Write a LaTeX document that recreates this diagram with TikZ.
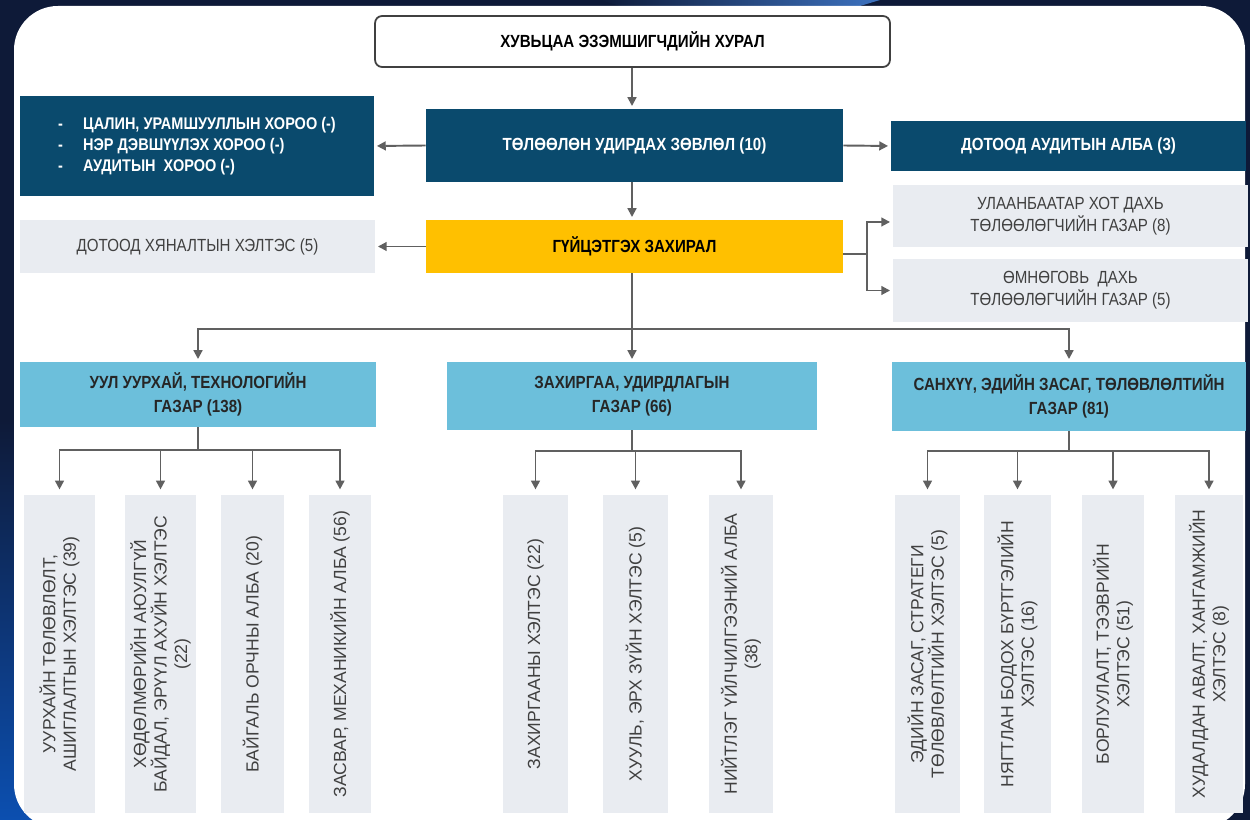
\documentclass[tikz,border=0pt]{standalone}
\usepackage{fontspec}
\setmainfont{Liberation Sans}[FakeStretch=0.86]
\newfontfamily\unitfont{Liberation Sans}
\usetikzlibrary{arrows.meta}
\definecolor{navy}{HTML}{0E1A38}
\definecolor{deepblue}{HTML}{0C4FB0}
\definecolor{board}{HTML}{0A4A6D}
\definecolor{gold}{HTML}{FFC000}
\definecolor{dept}{HTML}{6CBFDB}
\definecolor{pale}{HTML}{E9ECF1}
\definecolor{wire}{HTML}{606060}

\begin{document}
\begin{tikzpicture}[x=0.02cm, y=-0.02cm,
  every node/.style={inner sep=0pt, align=center, font=\fontsize{10}{12.5}\selectfont},
  dark/.style={fill=board, text=white, font=\bfseries\fontsize{10}{12.5}\selectfont},
  ceobox/.style={fill=gold, text=black, font=\bfseries\fontsize{10}{12.5}\selectfont},
  deptbox/.style={fill=dept, text=black!85, font=\bfseries\fontsize{10}{13.5}\selectfont},
  palebox/.style={fill=pale, text=black!75, font=\fontsize{10}{12.5}\selectfont},
  subbox/.style={palebox, rotate=90, minimum width=6.36cm, font=\unitfont\fontsize{10}{11.6}\selectfont},
  wireline/.style={draw=wire, line width=1.1pt},
  arrow/.style={wireline, -{Triangle[width=5pt,length=5pt]}, shorten >=1.5pt}]
\useasboundingbox (0,0) rectangle (1250,820);
% background and panel
\fill[navy] (0,0) rectangle (1250,820);
\shade[top color=navy, bottom color=deepblue] (0,420) rectangle (40,820);
\shade[left color=navy, right color=deepblue!80] (600,0) -- (880,0) -- (860,6) -- (620,6) -- cycle;
\fill[white, rounded corners=25] (14,6) rectangle (1245,828);

% top levels
\node (gsm) at (632.5,41.5) [draw=black!75, line width=1pt, fill=white, rounded corners=4pt,
  minimum width=10.3cm, minimum height=1.02cm, font=\bfseries\fontsize{10}{12.5}\selectfont] {ХУВЬЦАА ЭЗЭМШИГЧДИЙН ХУРАЛ};
\node (bod) at (634.5,145.5) [dark, minimum width=8.34cm, minimum height=1.46cm] {ТӨЛӨӨЛӨН УДИРДАХ ЗӨВЛӨЛ (10)};
\node (com) at (197,146) [dark, align=left, minimum width=7.08cm, minimum height=2cm,
  font=\bfseries\fontsize{9.6}{11.8}\selectfont]
  {\makebox[0.5cm][l]{-}ЦАЛИН, УРАМШУУЛЛЫН ХОРОО (-)\\
   \makebox[0.5cm][l]{-}НЭР ДЭВШҮҮЛЭХ ХОРОО (-)\\
   \makebox[0.5cm][l]{-}АУДИТЫН\ \ ХОРОО (-)};
\node (aud) at (1068.5,146) [dark, minimum width=7.1cm, minimum height=1cm] {ДОТООД АУДИТЫН АЛБА (3)};
\node (ceo) at (634.5,246.5) [ceobox, minimum width=8.34cm, minimum height=1.06cm] {ГҮЙЦЭТГЭХ ЗАХИРАЛ};
\node (ctl) at (197.5,246.5) [palebox, minimum width=7.1cm, minimum height=1.06cm] {ДОТООД ХЯНАЛТЫН ХЭЛТЭС (5)};
\node (ulb) at (1070.5,216) [palebox, minimum width=7.1cm, minimum height=1.24cm] {УЛААНБААТАР ХОТ ДАХЬ\\ТӨЛӨӨЛӨГЧИЙН ГАЗАР (8)};
\node (umn) at (1070.5,290.5) [palebox, minimum width=7.1cm, minimum height=1.26cm] {ӨМНӨГОВЬ\ \ ДАХЬ\\ТӨЛӨӨЛӨГЧИЙН ГАЗАР (5)};

% departments
\node (mine) at (198,394.5) [deptbox, minimum width=7.12cm, minimum height=1.3cm] {УУЛ УУРХАЙ, ТЕХНОЛОГИЙН\\ГАЗАР (138)};
\node (adm) at (632,396) [deptbox, minimum width=7.42cm, minimum height=1.36cm] {ЗАХИРГАА, УДИРДЛАГЫН\\ГАЗАР (66)};
\node (fin) at (1069,396.5) [deptbox, minimum width=7.1cm, minimum height=1.38cm] {САНХҮҮ, ЭДИЙН ЗАСАГ, ТӨЛӨВЛӨЛТИЙН\\ГАЗАР (81)};

% units
\node (m1) at (59.5,654) [subbox, minimum height=1.42cm] {УУРХАЙН ТӨЛӨВЛӨЛТ,\\АШИГЛАЛТЫН ХЭЛТЭС (39)};
\node (m2) at (160.5,654) [subbox, minimum height=1.42cm] {ХӨДӨЛМӨРИЙН АЮУЛГҮЙ\\БАЙДАЛ, ЭРҮҮЛ АХУЙН ХЭЛТЭС\\(22)};
\node (m3) at (252.5,654) [subbox, minimum height=1.26cm] {БАЙГАЛЬ ОРЧНЫ АЛБА (20)};
\node (m4) at (340,654) [subbox, minimum height=1.24cm] {ЗАСВАР, МЕХАНИКИЙН АЛБА (56)};
\node (a1) at (535.5,654) [subbox, minimum height=1.3cm] {ЗАХИРГААНЫ ХЭЛТЭС (22)};
\node (a2) at (635.5,654) [subbox, minimum height=1.3cm] {ХУУЛЬ, ЭРХ ЗҮЙН ХЭЛТЭС (5)};
\node (a3) at (741,654) [subbox, minimum height=1.28cm] {НИЙТЛЭГ ҮЙЛЧИЛГЭЭНИЙ АЛБА\\(38)};
\node (f1) at (927.5,654) [subbox, minimum height=1.3cm] {ЭДИЙН ЗАСАГ, СТРАТЕГИ\\ТӨЛӨВЛӨЛТИЙН ХЭЛТЭС (5)};
\node (f2) at (1017.5,654) [subbox, minimum height=1.34cm] {НЯГТЛАН БОДОХ БҮРТГЭЛИЙН\\ХЭЛТЭС (16)};
\node (f3) at (1113,654) [subbox, minimum height=1.24cm] {БОРЛУУЛАЛТ, ТЭЭВРИЙН\\ХЭЛТЭС (51)};
\node (f4) at (1209,654) [subbox, minimum height=1.36cm] {ХУДАЛДАН АВАЛТ, ХАНГАМЖИЙН\\ХЭЛТЭС (8)};

\coordinate (fork) at (867,254);
\coordinate (bus) at (632,329);
\coordinate (mbus) at (198,450);
\coordinate (abus) at (632,451);
\coordinate (fbus) at (1069,451);

\draw[arrow] (gsm.south -| 632,0) -- (bod.north -| 632,0);
\draw[arrow] (bod.south -| 632,0) -- (ceo.north -| 632,0);
\draw[arrow] (bod.west) -- (com.east);
\draw[arrow] (bod.east) -- (aud.west);
\draw[arrow] (ceo.west) -- (ctl.east);
\draw[wireline] (ceo.east |- fork) -- (fork);
\draw[arrow] (fork) |- ([yshift=-0.12cm]ulb.west);
\draw[arrow] (fork) |- (umn.west);
\draw[wireline] (ceo.south -| bus) -- (bus);
\foreach \d in {mine,adm,fin} \draw[arrow] (bus) -| (\d);
\draw[wireline] (mine) -- (mbus);
\draw[wireline] (adm) -- (abus);
\draw[wireline] (fin) -- (fbus);
\foreach \s in {m1,m2,m3,m4} \draw[arrow, shorten >=3pt] (mbus) -| (\s);
\foreach \s in {a1,a2,a3} \draw[arrow, shorten >=3pt] (abus) -| (\s);
\foreach \s in {f1,f2,f3,f4} \draw[arrow, shorten >=3pt] (fbus) -| (\s);
\end{tikzpicture}
\end{document}
